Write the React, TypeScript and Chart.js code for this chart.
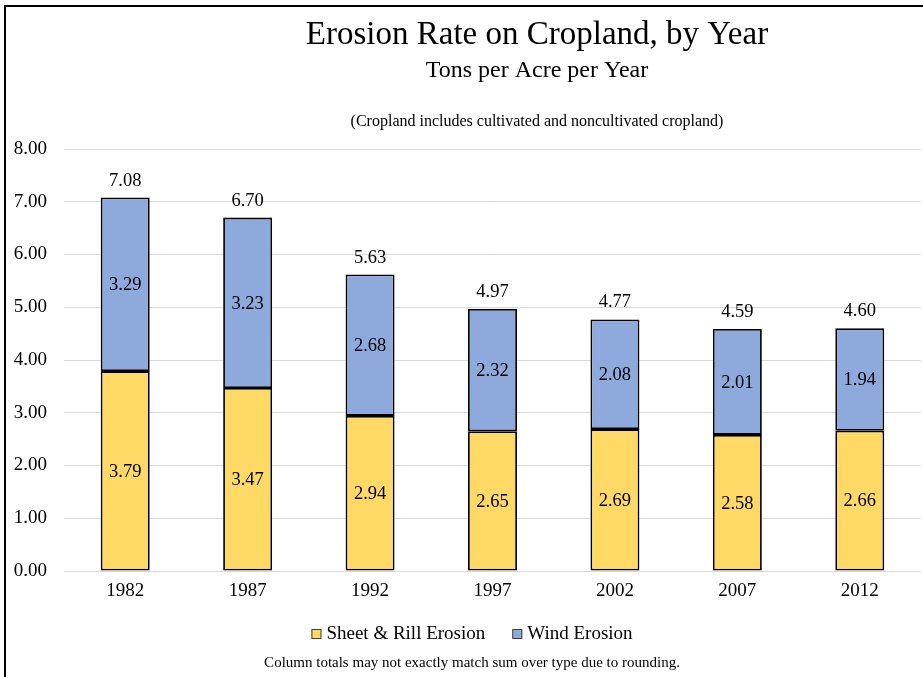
import React, { useEffect, useRef } from "react";
import { Chart, registerables } from "chart.js";

Chart.register(...registerables);

const categories = ["1982", "1987", "1992", "1997", "2002", "2007", "2012"];
const sheetRill = [3.79, 3.47, 2.94, 2.65, 2.69, 2.58, 2.66];
const wind = [3.29, 3.23, 2.68, 2.32, 2.08, 2.01, 1.94];
const totals = [7.08, 6.7, 5.63, 4.97, 4.77, 4.59, 4.6];
const yTicks = [0, 1, 2, 3, 4, 5, 6, 7, 8];

const TITLE = "Erosion Rate on Cropland, by Year";
const SUBTITLE = "Tons per Acre per Year";
const NOTE = "(Cropland includes cultivated and noncultivated cropland)";
const FOOTER = "Column totals may not exactly match sum over type due to rounding.";

const FONT = "'Liberation Serif', 'Times New Roman', serif";

const decorPlugin = {
  id: "decor",
  afterDraw(chart: any) {
    const ctx = chart.ctx;
    ctx.save();
    // frame
    ctx.fillStyle = "#000";
    ctx.fillRect(4, 5, 2, 677);
    ctx.fillRect(4, 5, 919, 2);
    // titles
    ctx.textAlign = "center";
    ctx.textBaseline = "alphabetic";
    ctx.fillStyle = "#000";
    ctx.font = `33px ${FONT}`;
    ctx.fillText(TITLE, 537, 44);
    ctx.font = `24px ${FONT}`;
    ctx.fillText(SUBTITLE, 537, 77);
    ctx.font = `16px ${FONT}`;
    ctx.fillText(NOTE, 537, 126);
    // footer
    ctx.font = `15px ${FONT}`;
    ctx.fillText(FOOTER, 472, 667);

    // data labels
    ctx.font = `18.5px ${FONT}`;
    ctx.fillStyle = "#000";
    chart.data.datasets.forEach((ds: any, di: number) => {
      const meta = chart.getDatasetMeta(di);
      meta.data.forEach((bar: any, i: number) => {
        const v = ds.data[i];
        ctx.textAlign = "center";
        ctx.textBaseline = "middle";
        ctx.fillText(v.toFixed(2), bar.x, (bar.y + bar.base) / 2 + 1);
      });
    });
    const topMeta = chart.getDatasetMeta(chart.data.datasets.length - 1);
    topMeta.data.forEach((bar: any, i: number) => {
      ctx.textAlign = "center";
      ctx.textBaseline = "alphabetic";
      ctx.fillText(totals[i].toFixed(2), bar.x, bar.y - 12);
    });

    // legend
    ctx.font = `19px ${FONT}`;
    const box = 10;
    const gapBox = 5;
    const gapItem = 27;
    const items = chart.data.datasets.map((ds: any) => ({
      label: ds.label,
      color: ds.backgroundColor,
      w: ctx.measureText(ds.label).width,
    }));
    const total =
      items.reduce((s: number, it: any) => s + box + gapBox + it.w, 0) +
      gapItem * (items.length - 1);
    let x = 472 - total / 2;
    items.forEach((it: any) => {
      ctx.fillStyle = it.color;
      ctx.fillRect(x, 629, box, box);
      ctx.strokeStyle = "#404040";
      ctx.lineWidth = 1;
      ctx.strokeRect(x + 0.5, 629.5, box - 1, box - 1);
      ctx.fillStyle = "#000";
      ctx.textAlign = "left";
      ctx.textBaseline = "alphabetic";
      ctx.fillText(it.label, x + box + gapBox, 639);
      x += box + gapBox + it.w + gapItem;
    });
    ctx.restore();
  },
};

export default function App() {
  const ref = useRef<HTMLCanvasElement>(null);
  useEffect(() => {
    document.body.style.margin = "0";
    const chart = new Chart(ref.current!, {
      type: "bar",
      data: {
        labels: categories,
        datasets: [
          {
            label: "Sheet & Rill Erosion",
            data: sheetRill,
            backgroundColor: "#FFD966",
            borderColor: "#000",
            borderWidth: 1.8,
            borderSkipped: false,
            categoryPercentage: 1,
            barPercentage: 0.4,
          },
          {
            label: "Wind Erosion",
            data: wind,
            backgroundColor: "#8EA9DB",
            borderColor: "#000",
            borderWidth: 1.8,
            borderSkipped: false,
            categoryPercentage: 1,
            barPercentage: 0.4,
          },
        ],
      },
      options: {
        animation: false,
        responsive: false,
        maintainAspectRatio: false,
        layout: { padding: { top: 149, left: 0, right: 2, bottom: 66 } },
        plugins: {
          legend: { display: false },
          title: { display: false },
          tooltip: { enabled: false },
        },
        scales: {
          x: {
            stacked: true,
            grid: { display: false, drawTicks: false },
            border: { display: false },
            ticks: {
              color: "#000",
              font: { family: FONT, size: 19 },
              padding: 9,
            },
            afterFit(scale: any) {
              scale.height = 40;
            },
          },
          y: {
            stacked: true,
            min: 0,
            max: 8,
            afterBuildTicks(scale: any) {
              scale.ticks = yTicks.map((v) => ({ value: v }));
            },
            grid: { color: "#D9D9D9", lineWidth: 1, drawTicks: false },
            border: { display: false },
            ticks: {
              color: "#000",
              font: { family: FONT, size: 19 },
              padding: 17,
              callback: (v: any) => Number(v).toFixed(2),
            },
            afterFit(scale: any) {
              scale.width = 64;
            },
          },
        },
      },
      plugins: [decorPlugin],
    });
    return () => chart.destroy();
  }, []);
  return (
    <div style={{ position: "absolute", left: 0, top: 0, width: 923, height: 677, background: "#fff" }}>
      <canvas ref={ref} width={923} height={677} style={{ display: "block" }} />
    </div>
  );
}
